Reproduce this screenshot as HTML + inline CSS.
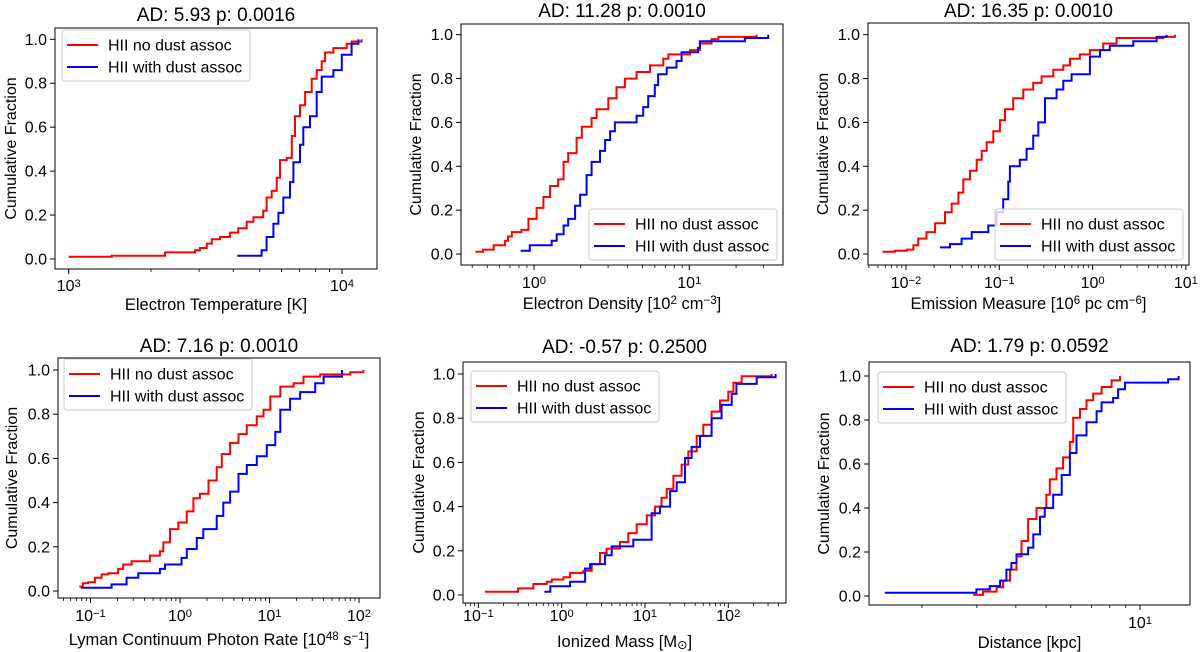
<!DOCTYPE html>
<html><head><meta charset="utf-8"><style>
body{margin:0;background:#fff;}
svg{display:block;font-family:"Liberation Sans","DejaVu Sans",sans-serif;}
</style></head><body>
<svg id="fig" width="1200" height="652" viewBox="0 0 1200 652" xmlns="http://www.w3.org/2000/svg"></svg>
<script>
// ---- data ----
const legendLabels = ["HII no dust assoc", "HII with dust assoc"];
const titles = ["AD: 5.93 p: 0.0016","AD: 11.28 p: 0.0010","AD: 16.35 p: 0.0010","AD: 7.16 p: 0.0010","AD: -0.57 p: 0.2500","AD: 1.79 p: 0.0592"];
const xLabels = ["Electron Temperature [K]","Electron Density [10^2 cm^−3]","Emission Measure [10^6 pc cm^−6]","Lyman Continuum Photon Rate [10^48 s^−1]","Ionized Mass [M_⊙]","Distance [kpc]"];
const yTicks = [0,0.2,0.4,0.6,0.8,1.0];
const yTickLabels = ["0.0","0.2","0.4","0.6","0.8","1.0"];

const p1RedX=[1000,1436,2250,2900,3020,3200,3340,3580,3890,4170,4480,4740,5150,5300,5530,5770,5930,6280,6550,6730,7020,7330,7750,8080,8430,8670,9300,10400,10840,11800];
const p1RedY=[0.01,0.015,0.03,0.04,0.05,0.07,0.09,0.10,0.12,0.14,0.17,0.19,0.22,0.28,0.31,0.37,0.45,0.46,0.56,0.65,0.70,0.76,0.82,0.86,0.90,0.94,0.96,0.98,0.99,1.0];
const p1BlueX=[4140,5080,5300,5610,5850,6100,6450,6640,7020,7220,7640,8080,8430,9300,9980,10840,11480];
const p1BlueY=[0.015,0.04,0.10,0.16,0.21,0.28,0.35,0.44,0.52,0.60,0.65,0.76,0.83,0.86,0.93,0.98,1.0];

const p2RedX=[0.42,0.47,0.55,0.65,0.68,0.72,0.83,0.92,1.04,1.15,1.27,1.43,1.55,1.66,1.88,2.03,2.35,2.53,3.01,3.40,3.85,4.58,5.58,6.80,7.33,10.1,11.7,13.9,15.4,27.1];
const p2RedY=[0.01,0.02,0.04,0.06,0.08,0.10,0.11,0.16,0.21,0.26,0.31,0.34,0.42,0.46,0.53,0.58,0.62,0.66,0.71,0.76,0.80,0.83,0.86,0.89,0.91,0.93,0.96,0.98,0.99,1.0];
const p2BlueX=[0.82,0.94,1.30,1.40,1.55,1.66,1.84,1.98,2.18,2.35,2.66,2.87,3.09,3.32,4.58,5.05,5.44,6.00,6.30,7.15,8.27,8.92,11.4,11.7,22.8,32.2];
const p2BlueY=[0.015,0.04,0.06,0.09,0.13,0.16,0.22,0.27,0.36,0.42,0.47,0.52,0.56,0.60,0.63,0.67,0.72,0.77,0.82,0.85,0.88,0.92,0.94,0.97,0.985,1.0];

const p3RedX=[0.0056,0.0076,0.0102,0.012,0.0135,0.0166,0.0205,0.0262,0.0309,0.0364,0.0411,0.0485,0.0572,0.0647,0.0732,0.0863,0.1016,0.115,0.141,0.181,0.231,0.284,0.379,0.485,0.572,0.731,0.935,1.30,1.81,5.71,7.62];
const p3RedY=[0.01,0.015,0.02,0.04,0.07,0.10,0.14,0.19,0.23,0.28,0.34,0.38,0.43,0.47,0.51,0.56,0.61,0.66,0.71,0.75,0.78,0.81,0.84,0.86,0.89,0.91,0.93,0.96,0.985,0.99,1.0];
const p3BlueX=[0.0231,0.0296,0.0394,0.0506,0.0762,0.0936,0.110,0.125,0.130,0.166,0.196,0.231,0.262,0.309,0.411,0.485,0.596,0.935,1.20,1.53,2.73,4.85,6.21];
const p3BlueY=[0.03,0.045,0.07,0.10,0.13,0.19,0.25,0.33,0.40,0.43,0.48,0.54,0.60,0.71,0.75,0.79,0.82,0.90,0.93,0.95,0.97,0.99,1.0];

const p4RedX=[0.075,0.082,0.094,0.112,0.133,0.158,0.204,0.232,0.288,0.461,0.597,0.651,0.773,0.958,1.19,1.41,1.67,2.08,2.57,2.93,3.63,4.50,5.58,7.21,8.57,10.2,13.2,18.6,24.0,36.9,80.0,112];
const p4RedY=[0.02,0.035,0.04,0.06,0.075,0.08,0.10,0.12,0.135,0.16,0.18,0.22,0.28,0.31,0.36,0.42,0.44,0.50,0.56,0.62,0.67,0.71,0.75,0.79,0.82,0.88,0.925,0.94,0.97,0.98,0.99,1.0];
const p4BlueX=[0.078,0.172,0.253,0.342,0.597,0.68,1.04,1.19,1.54,1.82,2.57,3.05,3.63,4.50,5.58,7.21,9.33,11.6,13.2,17.0,22.0,32.4,40.2,64.5];
const p4BlueY=[0.015,0.03,0.06,0.08,0.10,0.12,0.15,0.19,0.24,0.28,0.34,0.40,0.45,0.53,0.57,0.61,0.66,0.72,0.82,0.87,0.90,0.94,0.97,1.0];

const p5RedX=[0.12,0.30,0.457,0.66,0.76,1.05,1.26,1.82,2.29,2.88,3.47,5.01,6.31,7.94,10.5,13.2,15.8,18.2,21.9,27.5,33.1,41.7,50.1,63.1,79.4,100,115,145,330];
const p5RedY=[0.015,0.03,0.05,0.06,0.07,0.08,0.10,0.11,0.14,0.19,0.21,0.24,0.28,0.32,0.36,0.40,0.44,0.48,0.54,0.59,0.65,0.72,0.77,0.83,0.88,0.92,0.96,0.99,1.0];
const p5BlueX=[0.62,0.73,1.26,1.91,2.19,3.31,3.98,7.24,12.0,15.1,20.0,24.0,30.2,36.3,45.7,63.1,83.2,110,125,219,370];
const p5BlueY=[0.015,0.04,0.06,0.12,0.14,0.18,0.22,0.25,0.37,0.40,0.47,0.51,0.62,0.67,0.72,0.80,0.86,0.91,0.955,0.985,1.0];

const p6RedX=[2.92,3.14,3.47,3.64,3.83,4.02,4.17,4.38,4.66,5.01,5.14,5.40,5.67,5.96,6.11,6.42,6.74,7.08,7.53,8.11,8.63];
const p6RedY=[0.005,0.02,0.04,0.07,0.12,0.18,0.25,0.35,0.40,0.46,0.53,0.58,0.63,0.70,0.81,0.85,0.89,0.92,0.95,0.98,1.0];
const p6BlueX=[1.52,2.99,3.30,3.56,3.73,3.87,4.02,4.38,4.55,4.78,4.95,5.27,5.61,5.96,6.26,6.74,7.26,7.53,8.20,8.51,8.95,12.3,13.3];
const p6BlueY=[0.015,0.03,0.045,0.07,0.12,0.15,0.19,0.22,0.28,0.36,0.40,0.46,0.55,0.65,0.73,0.79,0.84,0.88,0.90,0.94,0.97,0.985,1.0];

// ---- layout ----
const NS="http://www.w3.org/2000/svg";
const svg=document.getElementById('fig');
function mk(tag,attrs,parent){const e=document.createElementNS(NS,tag);for(const k in attrs)e.setAttribute(k,attrs[k]);(parent||svg).appendChild(e);return e;}

const panels=[
 {box:[55,28,377,269],y0:259,y1:39.3,x0:68.7,l0:3,dec:273.3,xlo:2.97,xhi:4.15,leg:[62,30],lblX:10,titleY:21,xlY:310,tickY:291,red:[p1RedX,p1RedY],blue:[p1BlueX,p1BlueY]},
 {box:[461,24,783,265],y0:254,y1:34.7,x0:534,l0:0,dec:155.3,xlo:-0.47,xhi:1.6,leg:[589,209],lblX:415,titleY:17,xlY:309,tickY:288,red:[p2RedX,p2RedY],blue:[p2BlueX,p2BlueY]},
 {box:[868,23,1189,265],y0:254,y1:34.7,x0:906,l0:-2,dec:93.3,xlo:-2.4,xhi:1.05,leg:[995,209],lblX:822,titleY:17,xlY:309,tickY:288,red:[p3RedX,p3RedY],blue:[p3BlueX,p3BlueY]},
 {box:[58,358,380,598],y0:591,y1:370,x0:180,l0:0,dec:89.5,xlo:-1.35,xhi:2.23,leg:[64,359],lblX:11,titleY:352,xlY:645,tickY:621,red:[p4RedX,p4RedY],blue:[p4BlueX,p4BlueY]},
 {box:[463,362,786,603],y0:595,y1:374,x0:561.7,l0:0,dec:83.3,xlo:-1.2,xhi:2.67,leg:[471,371],lblX:418,titleY:353,xlY:647,tickY:621,red:[p5RedX,p5RedY],blue:[p5BlueX,p5BlueY]},
 {box:[869,362,1190,605],y0:596,y1:376,x0:1140,l0:1,dec:312,xlo:0.16,xhi:1.16,leg:[878,372],lblX:823,titleY:352,xlY:648,tickY:628,red:[p6RedX,p6RedY],blue:[p6BlueX,p6BlueY]}
];

function richText(g,str,x,y,size,name){
  const t=mk('text',{x:x,y:y,'text-anchor':'middle','font-size':size,fill:'#000'},g);
  
  
  const parts=str.split(/(\^[^ \]]+|_[^ \]]+)/);
  parts.forEach(p=>{
    if(!p)return;
    if(p[0]==='^'){mk('tspan',{'baseline-shift':'40%','font-size':size*0.7},t).textContent=p.slice(1);}
    else if(p[0]==='_'){mk('tspan',{'baseline-shift':'-20%','font-size':size*0.75},t).textContent=p.slice(1);}
    else{mk('tspan',{},t).textContent=p;}
  });
  return t;
}

panels.forEach((P,i)=>{
  const g=mk('g',{});
  
  
  const [L,T,R,B]=P.box;
  const xs=v=>P.x0+(Math.log10(v)-P.l0)*P.dec;
  const ys=v=>P.y0+(P.y1-P.y0)*v;
  const cid='clip'+i;
  const cp=mk('clipPath',{id:cid},g);mk('rect',{x:L,y:T,width:R-L,height:B-T},cp);
  yTicks.forEach((v,k)=>{
    const y=ys(v);
    const tk=mk('line',{x1:L-5,x2:L,y1:y,y2:y,stroke:'#000','stroke-width':1},g);
    
    
    const tl=mk('text',{x:L-8,y:y+5.5,'text-anchor':'end','font-size':16,fill:'#000'},g);
    
    
    tl.textContent=yTickLabels[k];
  });
  for(let d=Math.floor(P.xlo);d<=Math.ceil(P.xhi);d++){
    for(let m=1;m<10;m++){
      const lv=d+Math.log10(m);
      if(lv<P.xlo||lv>P.xhi)continue;
      const x=P.x0+(lv-P.l0)*P.dec;
      const tk=mk('line',{x1:x,x2:x,y1:B,y2:B+(m===1?5:3),stroke:'#000','stroke-width':m===1?1:0.8},g);
      
      
      if(m===1){
        richText(g,'10^'+(d<0?'−'+(-d):d),x,P.tickY,16,'x-tick-label');
      }
    }
  }
  [[P.red,'#ff0000','red-cdf-line'],[P.blue,'#0000ff','blue-cdf-line']].forEach(([s,c,nm])=>{
    const X=s[0],Y=s[1];
    let d='M'+xs(X[0]).toFixed(1)+','+ys(Y[0]).toFixed(1);
    for(let k=1;k<X.length;k++){d+='H'+xs(X[k]).toFixed(1)+'V'+ys(Y[k]).toFixed(1);}
    const p=mk('path',{d:d,fill:'none',stroke:c,'stroke-width':2,'clip-path':'url(#'+cid+')'},g);
    
    
  });
  const fr=mk('rect',{x:L,y:T,width:R-L,height:B-T,fill:'none',stroke:'#000','stroke-width':1},g);
  
  
  const tt=mk('text',{x:(L+R)/2,y:P.titleY,'text-anchor':'middle','font-size':19,fill:'#000'},g);
  
  
  tt.textContent=titles[i];
  richText(g,xLabels[i],(L+R)/2,P.xlY,16.5,'x-axis-title');
  const yl=mk('text',{x:0,y:0,'text-anchor':'middle','font-size':16,fill:'#000',transform:'translate('+(P.lblX+6)+','+((T+B)/2)+') rotate(-90)'},g);
  
  
  yl.textContent='Cumulative Fraction';
  const [lx,ly]=P.leg;
  const lg=mk('g',{},g);
  
  
  mk('rect',{x:lx,y:ly,width:188,height:51,rx:3,fill:'#fff','fill-opacity':0.8,stroke:'#ccc','stroke-width':1},lg);
  [['#ff0000',0],['#0000ff',1]].forEach(([c,k])=>{
    const yy=ly+15+k*22;
    const ln=mk('line',{x1:lx+5,x2:lx+36,y1:yy,y2:yy,stroke:c,'stroke-width':2},lg);
    
    
    const tx=mk('text',{x:lx+46,y:yy+5.5,'font-size':16,fill:'#000'},lg);
    
    
    tx.textContent=legendLabels[k];
  });
});
</script>
</body></html>
